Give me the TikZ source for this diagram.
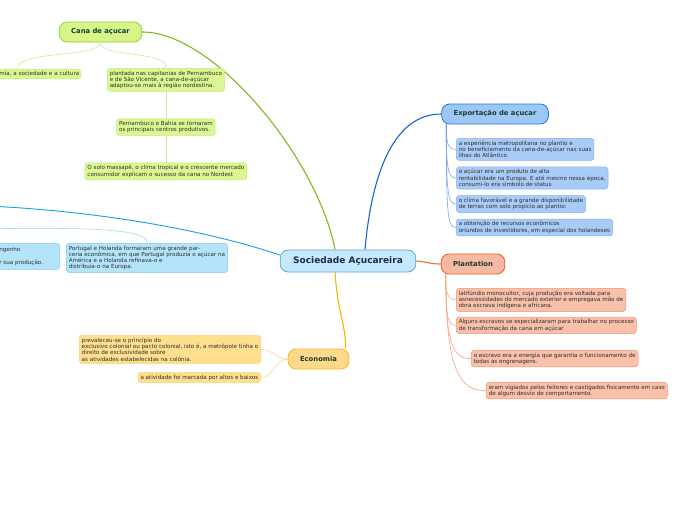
\documentclass[tikz,border=0pt]{standalone}
\usepackage{fontspec}
\setmainfont{DejaVu Sans}
\usepackage{xcolor}
\usetikzlibrary{positioning, backgrounds}
\definecolor{titletext}{HTML}{1B3B2E}
\definecolor{centertext}{HTML}{1C2B4A}
\definecolor{notetext}{HTML}{2E2E2E}
\definecolor{centerfill}{HTML}{C5E9FB}
\definecolor{centerline}{HTML}{5AA8DC}
\definecolor{canafill}{HTML}{D6F68A}
\definecolor{canaline}{HTML}{9ACD3A}
\definecolor{cananote}{HTML}{DAF791}
\definecolor{canaedge}{HTML}{C2E870}
\definecolor{canabranch}{HTML}{7FB81F}
\definecolor{canatwig}{HTML}{CBE69E}
\definecolor{expfill}{HTML}{9CC8F6}
\definecolor{expline}{HTML}{2F72D6}
\definecolor{expnote}{HTML}{A9CBF8}
\definecolor{expedge}{HTML}{80B2F0}
\definecolor{expbranch}{HTML}{1565D3}
\definecolor{exptwig}{HTML}{7AA6E8}
\definecolor{plantfill}{HTML}{F8B9A2}
\definecolor{plantline}{HTML}{E85B2A}
\definecolor{plantnote}{HTML}{F9C0AA}
\definecolor{plantedge}{HTML}{F29575}
\definecolor{plantbranch}{HTML}{F06A3A}
\definecolor{planttwig}{HTML}{F3A586}
\definecolor{ecofill}{HTML}{FFD98A}
\definecolor{ecoline}{HTML}{F3BA25}
\definecolor{econote}{HTML}{FDDF8E}
\definecolor{ecoedge}{HTML}{F8D57A}
\definecolor{ecobranch}{HTML}{F4B400}
\definecolor{ecotwig}{HTML}{FAD98A}
\definecolor{mercnote}{HTML}{B3E4FA}
\definecolor{mercedge}{HTML}{7FCDF3}
\definecolor{mercbranch}{HTML}{12A1E6}
\definecolor{merctwig}{HTML}{A8D9F0}
\tikzstyle{topic} = [rectangle, draw, rounded corners=8pt, line width=0.8pt, minimum height=20pt, inner xsep=12pt, text=titletext, font=\fontsize{6.8}{7.5}\selectfont\bfseries]
\tikzstyle{centerbox} = [topic, fill=centerfill, draw=centerline, minimum height=22pt, inner xsep=13pt, text=centertext, font=\fontsize{9}{9.5}\selectfont\bfseries]
\tikzstyle{note} = [rectangle, draw, rounded corners=3pt, line width=0.5pt, inner sep=2.5pt, align=left, text=notetext, font=\fontsize{5.6}{6.3}\selectfont]
\tikzstyle{branch} = [line width=1.1pt]
\tikzstyle{twig} = [line width=0.6pt]

\begin{document}
\begin{tikzpicture}[x=1pt, y=-1pt]
    \useasboundingbox (0,0) rectangle (696,520);

    \node (soc) [centerbox] at (348,261) {Sociedade Açucareira};

    \node (cana) [topic, fill=canafill, draw=canaline] at (100.5,32) {Cana de açucar};
    \node (cana1) [note, fill=cananote, draw=canaedge, anchor=east, text width=92pt, align=right, inner xsep=1.5pt] at (81,74) {mia, a sociedade e a cultura};
    \node (cana2) [note, fill=cananote, draw=canaedge, anchor=north west] at (107,68) {plantada nas capitanias de Pernambuco\\e de São Vicente, a cana-de-açúcar\\adaptou-se mais à região nordestina.};
    \node (pern) [note, fill=cananote, draw=canaedge, below=27pt of cana2] {Pernambuco e Bahia se tornaram\\os principais centros produtivos.};
    \node (solo) [note, fill=cananote, draw=canaedge, below=27pt of pern] {O solo massapê, o clima tropical e o crescente mercado\\consumidor explicam o sucesso da cana no Nordest};

    \node (expo) [topic, fill=expfill, draw=expline] at (495,114) {Exportação de açucar};
    \node (exp1) [note, fill=expnote, draw=expedge, anchor=north west] at (456,138) {a experiência metropolitana no plantio e\\no beneficiamento da cana-de-açúcar nas suas\\ilhas do Atlântico};
    \node (exp2) [note, fill=expnote, draw=expedge, below=6pt of exp1.south west, anchor=north west] {o açúcar era um produto de alta\\rentabilidade na Europa. E até mesmo nessa época,\\consumi-lo era símbolo de status};
    \node (exp3) [note, fill=expnote, draw=expedge, below=6pt of exp2.south west, anchor=north west] {o clima favorável e a grande disponibilidade\\de terras com solo propício ao plantio;};
    \node (exp4) [note, fill=expnote, draw=expedge, below=6pt of exp3.south west, anchor=north west] {a obtenção de recursos econômicos\\oriundos de investidores, em especial dos holandeses};

    \node (plant) [topic, fill=plantfill, draw=plantline] at (473,264) {Plantation};
    \node (plant1) [note, fill=plantnote, draw=plantedge, anchor=north west] at (456,288) {latifúndio monocultor, cuja produção era voltada para\\asnecessidades do mercado exterior e empregava mão de\\obra escrava indígena e africana.};
    \node (plant2) [note, fill=plantnote, draw=plantedge, below=5pt of plant1.south west, anchor=north west] {Alguns escravos se especializaram para trabalhar no processo\\de transformação da cana em açúcar};
    \node (plant3) [note, fill=plantnote, draw=plantedge, anchor=north west] at (471,350) {o escravo era a energia que garantia o funcionamento de\\todas as engrenagens.};
    \node (plant4) [note, fill=plantnote, draw=plantedge, anchor=north west] at (486,382) {eram vigiados pelos feitores e castigados fisicamente em caso\\de algum desvio de comportamento.};

    \node (eco) [topic, fill=ecofill, draw=ecoline] at (318.5,359) {Economia};
    \node (eco1) [note, fill=econote, draw=ecoedge, anchor=north east] at (261,335) {prevaleceu-se o princípio do\\exclusivo colonial ou pacto colonial, isto é, a metrópole tinha o\\direito de exclusividade sobre\\as atividades estabelecidas na colônia.};
    \node (eco2) [note, fill=econote, draw=ecoedge, anchor=north east] at (261,372) {a atividade foi marcada por altos e baixos};

    \coordinate (merc) at (-40,205);
    \coordinate (mercbase) at (-40,229);
    \node (merc1) [note, fill=mercnote, draw=mercedge, anchor=north east, text width=58pt, minimum height=26pt] at (60,243) {ngenho\\[6.3pt]r sua produção.};
    \node (merc2) [note, fill=mercnote, draw=mercedge, anchor=north west] at (66,243) {Portugal e Holanda formaram uma grande par-\\ceria econômica, em que Portugal produzia o açúcar na\\América e a Holanda refinava-o e\\distribuía-o na Europa.};

    \begin{scope}[on background layer]
    \draw [branch, canabranch] ([xshift=-13pt]soc.north) .. controls (318,160) and (215,32) .. (cana.east);
    \draw [twig, canatwig] (cana.south) .. controls (100,58) and (18,50) .. ([xshift=-64pt]cana1.north east);
    \draw [twig, canatwig] (cana.south) .. controls (100,58) and (167,50) .. (cana2.north);
    \draw [twig, canatwig] (cana2) -- (pern);
    \draw [twig, canatwig] (pern) -- (solo);

    \draw [branch, expbranch] ([xshift=17pt]soc.north) .. controls (372,170) and (395,114) .. (expo.west);
    \draw [twig, exptwig] ([xshift=5pt]expo.south west) .. controls +(0,20) and +(-8,0) .. (exp1.west);
    \draw [twig, exptwig] ([xshift=5pt]expo.south west) .. controls +(0,45) and +(-8,0) .. (exp2.west);
    \draw [twig, exptwig] ([xshift=5pt]expo.south west) .. controls +(0,70) and +(-8,0) .. (exp3.west);
    \draw [twig, exptwig] ([xshift=5pt]expo.south west) .. controls +(0,95) and +(-8,0) .. (exp4.west);

    \draw [branch, plantbranch] (soc.east) .. controls (428,262) and (430,264) .. (plant.west);
    \draw [twig, planttwig] ([xshift=5pt]plant.south west) .. controls +(0,20) and +(-8,0) .. (plant1.west);
    \draw [twig, planttwig] ([xshift=5pt]plant.south west) .. controls +(0,45) and +(-8,0) .. (plant2.west);
    \draw [twig, planttwig] ([xshift=5pt]plant.south west) .. controls +(0,70) and +(-18,0) .. (plant3.west);
    \draw [twig, planttwig] ([xshift=5pt]plant.south west) .. controls +(0,100) and +(-25,0) .. (plant4.west);

    \draw [branch, ecobranch] ([xshift=-13pt]soc.south) .. controls (338,315) and (346,325) .. ([xshift=27pt]eco.north);
    \draw [twig, ecotwig] (eco.west) .. controls +(-13,0) and +(13,0) .. (eco1.east);
    \draw [twig, ecotwig] (eco.west) .. controls +(-13,0) and +(13,0) .. (eco2.east);

    \draw [branch, mercbranch, line width=0.9pt] ([yshift=6pt]soc.west) .. controls (200,228) and (80,208) .. (merc);
    \draw [twig, merctwig] (mercbase) .. controls (60,228) and (150,226) .. (merc2.north);
    \end{scope}
\end{tikzpicture}
\end{document}
